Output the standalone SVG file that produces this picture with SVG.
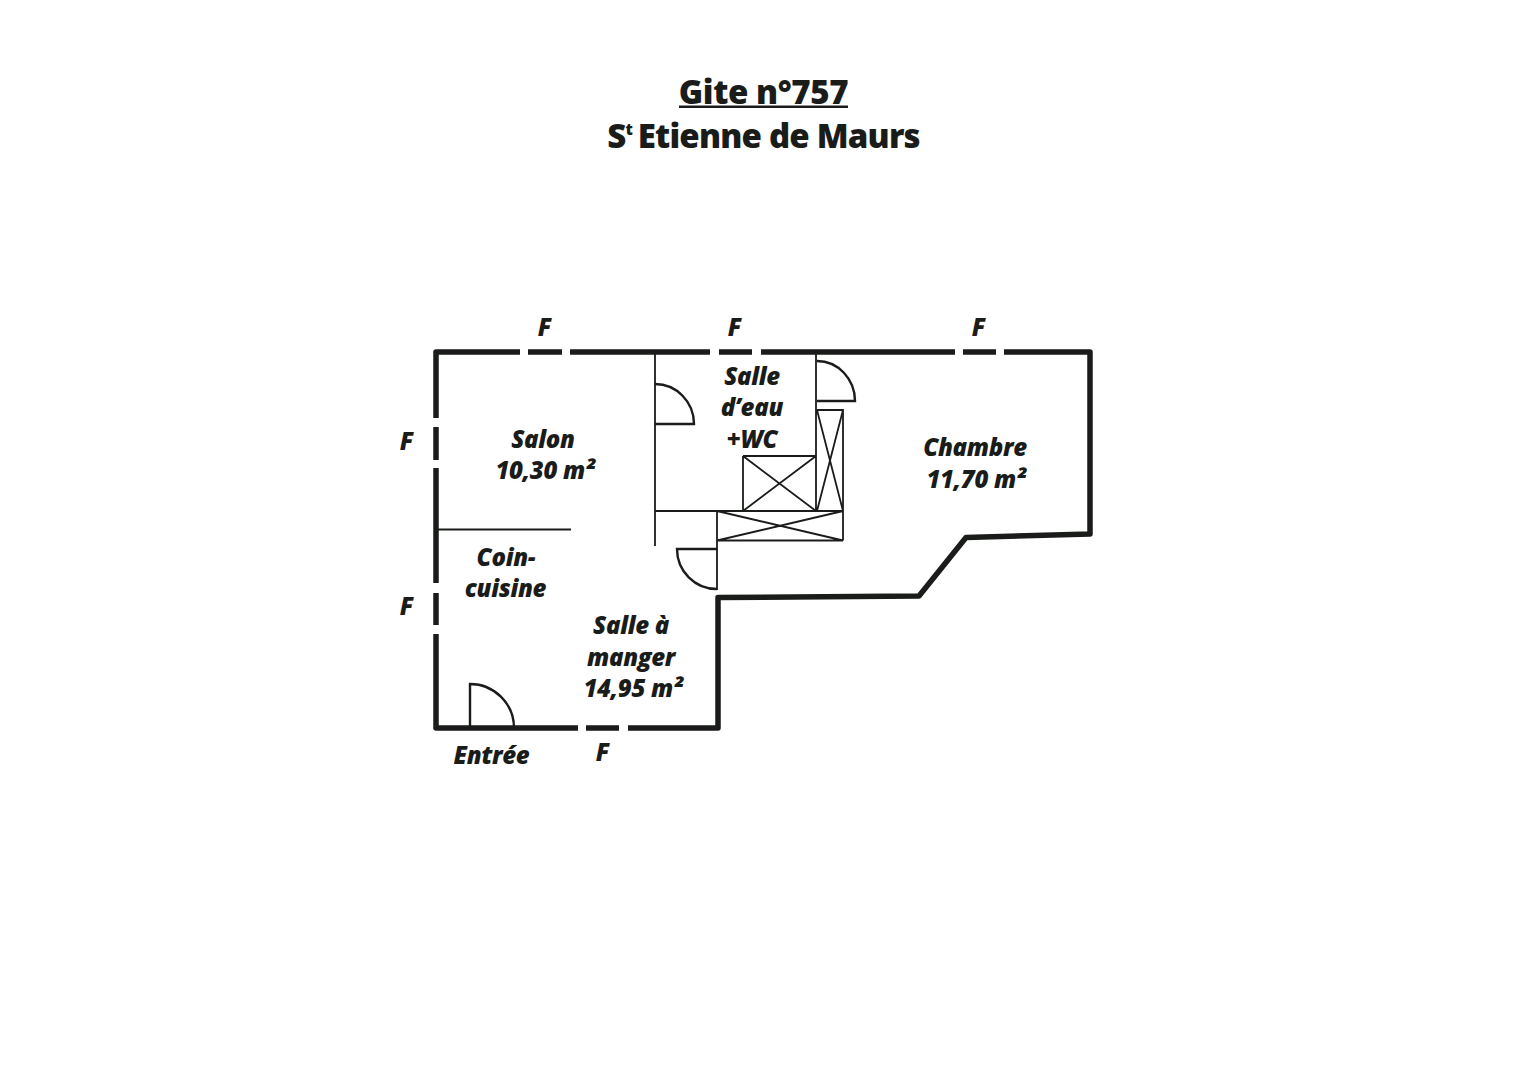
<svg xmlns="http://www.w3.org/2000/svg" width="1527" height="1080" viewBox="0 0 1527 1080">
<style>
.w{fill:none;stroke:#1a1c1a;stroke-width:5.500;stroke-linecap:butt;stroke-linejoin:round}
.t{fill:none;stroke:#1a1c1a;stroke-width:1.800}
.d{fill:none;stroke:#1a1c1a;stroke-width:2.400}
text{font-family:"Open Sans","Noto Sans",sans-serif;fill:#1a1c1a}
.l{font-size:24px;font-weight:800;font-style:italic;text-anchor:middle;letter-spacing:-0.300px}
.h{font-size:33px;font-weight:800;text-anchor:middle}
</style>
<rect width="1527" height="1080" fill="#fff"/>
<g id="title">
<text class="h" x="763.500" y="103.500" letter-spacing="-0.400">Gite n°757</text>
<rect x="679" y="105.500" width="169" height="2.500" fill="#1a1c1a"/>
<text class="h" x="763.500" y="147.500" letter-spacing="-0.800">S<tspan font-size="16" dy="-13">t</tspan><tspan dy="13" dx="-2"> Etienne de Maurs</tspan></text>
</g>
<g id="walls">
<path class="w" d="M520 352H436V418M528 352H562M570 352H710M719 352H752M761 352H955M963 352H996M1004 352H1090V534L966 537.500 919 596 718 597.500V728H628M619 728H586M578 728H436V634M436 625V593M436 583V468M436 460V427"/>
</g>
<g id="partitions">
<path class="t" d="M438 529.500H571M655 352V546M655 511H843M816 352V511M717 511V590M743 456H816M743 456V511M743 456L816 511M816 456L743 511M817 410H843V511M817 410L843 511M843 410L817 511M717 540.500H843M843 511V540.500M717 511L843 540.500M843 511L717 540.500"/>
</g>
<g id="doors">
<path class="d" d="M655 384A39 40 0 0 1 694 424H655"/>
<path class="d" d="M817 361A38 40 0 0 1 855 401H817"/>
<path class="d" d="M717 549H677A40 40 0 0 0 717 589"/>
<path class="d" d="M470 728V684A44 44 0 0 1 514 728"/>
</g>
<g id="labels">
<text class="l" x="543" y="447.500">Salon</text>
<text class="l" x="545" y="478.500">10,30 m²</text>
<text class="l" x="752" y="384.500">Salle</text>
<text class="l" x="752" y="415.500">d’eau</text>
<text class="l" x="752" y="447.500">+WC</text>
<text class="l" x="975" y="455.500">Chambre</text>
<text class="l" x="976" y="487.500">11,70 m²</text>
<text class="l" x="506" y="565.500">Coin-</text>
<text class="l" x="505.500" y="596.500">cuisine</text>
<text class="l" x="631" y="633.500">Salle à</text>
<text class="l" x="631" y="665.500">manger</text>
<text class="l" x="633" y="696.500">14,95 m²</text>
<text class="l" x="491.500" y="763.500">Entrée</text>
<text class="l" x="544.500" y="335.500">F</text>
<text class="l" x="734.500" y="335.500">F</text>
<text class="l" x="978.500" y="335.500">F</text>
<text class="l" x="406.500" y="449.500">F</text>
<text class="l" x="406.500" y="614.500">F</text>
<text class="l" x="602.500" y="760.500">F</text>
</g>
</svg>
